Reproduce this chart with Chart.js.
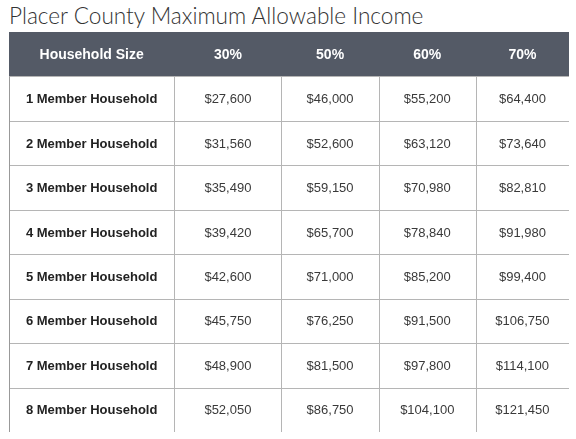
<!DOCTYPE html>
<html>
<head>
<meta charset="utf-8">
<script src="https://cdn.jsdelivr.net/npm/chart.js@4.4.0/dist/chart.umd.min.js"></script>
<style>
  body { margin: 0; background: #fff; }
  #title { position: absolute; left: 9px; top: 2px; font-family: Lato, sans-serif; font-weight: 300; font-size: 22.6px; color: #333; }
  #wrap { position: absolute; left: 9px; top: 32px; width: 560px; height: 400px; }
</style>
</head>
<body>
<div id="title">Placer County Maximum Allowable Income</div>
<div id="wrap"><canvas id="tbl"></canvas></div>
<script>
const headers = ["Household Size", "30%", "50%", "60%", "70%"];
const rowLabels = ["1 Member Household", "2 Member Household", "3 Member Household", "4 Member Household",
  "5 Member Household", "6 Member Household", "7 Member Household", "8 Member Household"];
const inc30 = [27600, 31560, 35490, 39420, 42600, 45750, 48900, 52050];
const inc50 = [46000, 52600, 59150, 65700, 71000, 76250, 81500, 86750];
const inc60 = [55200, 63120, 70980, 78840, 85200, 91500, 97800, 104100];
const inc70 = [64400, 73640, 82810, 91980, 99400, 106750, 114100, 121450];

// column edges in table units (0..559)
const colEdges = [0, 165, 272, 369, 466, 559];
const fmt = v => "$" + v.toLocaleString("en-US");

const tablePlugin = {
  id: "table",
  afterDraw(chart) {
    const ctx = chart.ctx, xs = chart.scales.x, ys = chart.scales.y;
    const series = [inc30, inc50, inc60, inc70];
    const rowH = Math.abs(ys.getPixelForValue(1) - ys.getPixelForValue(0));
    const X = v => xs.getPixelForValue(v);
    const left = X(0), right = X(559);
    const top = ys.getPixelForValue(0) - rowH / 2;
    const bottom = ys.getPixelForValue(8) + rowH / 2;
    ctx.save();
    // header
    ctx.fillStyle = "#545a66";
    ctx.fillRect(left, top, right - left, rowH);
    ctx.textAlign = "center";
    ctx.textBaseline = "middle";
    ctx.font = "bold 14px 'Liberation Sans', Arial, sans-serif";
    ctx.fillStyle = "#fff";
    headers.forEach((h, c) => ctx.fillText(h, (X(colEdges[c]) + X(colEdges[c + 1])) / 2, ys.getPixelForValue(0) + 1));
    // grid
    ctx.strokeStyle = "#b5b5b5";
    ctx.lineWidth = 1;
    for (let r = 1; r <= 9; r++) {
      const y = Math.round(top + r * rowH) + 0.5;
      ctx.beginPath(); ctx.moveTo(left, y); ctx.lineTo(right, y); ctx.stroke();
    }
    colEdges.forEach((e, c) => {
      const x = Math.round(X(e)) + 0.5;
      ctx.strokeStyle = c === 0 || c === colEdges.length - 1 ? "#999" : "#b5b5b5";
      ctx.beginPath(); ctx.moveTo(x, top + rowH); ctx.lineTo(x, bottom); ctx.stroke();
    });
    // body
    rowLabels.forEach((lab, r) => {
      const y = ys.getPixelForValue(r + 1) + 1;
      ctx.fillStyle = "#222";
      ctx.font = "bold 13px 'Liberation Sans', Arial, sans-serif";
      ctx.fillText(lab, (X(colEdges[0]) + X(colEdges[1])) / 2, y);
      ctx.font = "13px 'Liberation Sans', Arial, sans-serif";
      ctx.fillStyle = "#3a3a3a";
      series.forEach((s, c) => ctx.fillText(fmt(s[r]), (X(colEdges[c + 1]) + X(colEdges[c + 2])) / 2, y));
    });
    ctx.restore();
  }
};

new Chart(document.getElementById("tbl"), {
  type: "scatter",
  data: { datasets: [{ data: [] }] },
  options: {
    responsive: true,
    maintainAspectRatio: false,
    animation: false,
    layout: { padding: 0 },
    plugins: { legend: { display: false }, tooltip: { enabled: false } },
    scales: {
      x: { type: "linear", min: 0, max: 559, display: false },
      y: { type: "linear", min: -0.5, max: 8.5, reverse: true, display: false }
    }
  },
  plugins: [tablePlugin]
});
</script>
</body>
</html>
